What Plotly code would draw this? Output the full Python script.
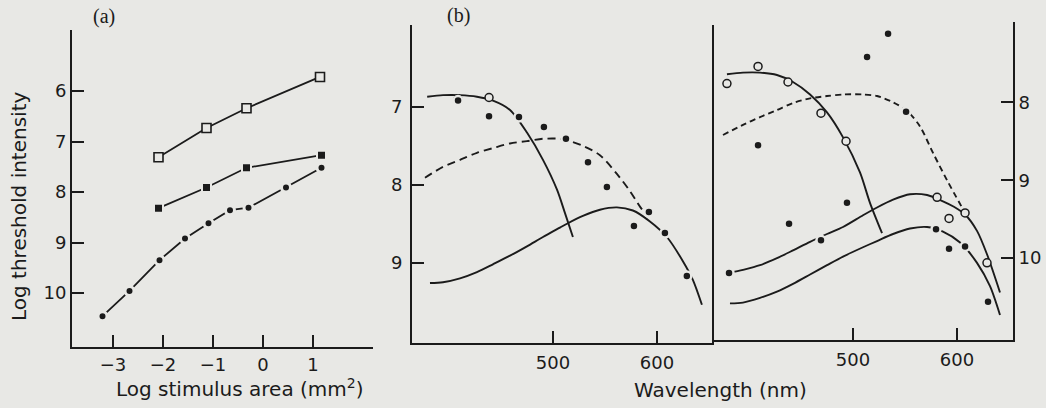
import plotly.graph_objects as go

BG = "#e8e8e5"
INK = "#1b1b1b"
FONT = "DejaVu Sans"
SERIF = "Liberation Serif"

# ---------------- Panel (a) data ----------------
a_x_ticks = [-3, -2, -1, 0, 1]
a_x_text = ["\u22123", "\u22122", "\u22121", "0", "1"]
a_y_ticks = [6, 7, 8, 9, 10]

a_open_x = [-2.09, -1.13, -0.33, 1.14]
a_open_y = [7.31, 6.73, 6.34, 5.72]
a_fill_x = [-2.09, -1.13, -0.33, 1.17]
a_fill_y = [8.32, 7.91, 7.52, 7.27]
a_dot_x = [-3.21, -2.67, -2.07, -1.56, -1.09, -0.66, -0.29, 0.46, 1.17]
a_dot_y = [10.46, 9.96, 9.35, 8.92, 8.62, 8.36, 8.31, 7.91, 7.52]

# ---------------- Panel (b) left data ----------------
b_x_ticks = [500, 600]
bl_y_ticks = [7, 8, 9]

bl_short_x = [379.0, 394.2, 410.6, 426.9, 442.3, 458.7, 475.0, 490.4, 503.8, 511.5, 519.2]
bl_short_y = [6.87, 6.85, 6.85, 6.87, 6.92, 7.04, 7.33, 7.68, 8.06, 8.36, 8.67]

bl_dash_x = [376.9, 394.2, 410.6, 426.9, 442.3, 458.7, 475.0, 490.4, 506.7, 513.5, 528.8, 545.2, 561.5, 574.0, 583.7, 590.4]
bl_dash_y = [7.91, 7.77, 7.68, 7.59, 7.53, 7.47, 7.44, 7.41, 7.41, 7.43, 7.50, 7.62, 7.86, 8.08, 8.28, 8.40]

bl_long_x = [381.7, 394.2, 410.6, 426.9, 442.3, 458.7, 475.0, 490.4, 506.7, 513.5, 528.8, 545.2, 561.5, 576.9, 593.3, 609.6, 625.0, 634.6, 643.3]
bl_long_y = [9.26, 9.25, 9.20, 9.12, 9.02, 8.91, 8.79, 8.67, 8.55, 8.50, 8.40, 8.32, 8.29, 8.33, 8.47, 8.67, 8.98, 9.22, 9.54]

bl_open_x = [408.7, 438.5]
bl_open_y = [6.90, 6.88]
bl_fill_x = [408.7, 438.5, 467.3, 491.3, 512.5, 533.7, 551.9, 577.9, 592.3, 607.7, 628.8]
bl_fill_y = [6.92, 7.12, 7.13, 7.26, 7.41, 7.71, 8.03, 8.53, 8.35, 8.62, 9.17]

# ---------------- Panel (b) right data ----------------
br_y_ticks = [8, 9, 10]

br_short_x = [378.8, 394.2, 410.6, 426.9, 442.3, 458.7, 475.0, 490.4, 506.7, 516.3, 527.9]
br_short_y = [7.64, 7.62, 7.62, 7.65, 7.74, 7.90, 8.13, 8.45, 8.90, 9.29, 9.68]

br_dash_x = [375.0, 394.2, 410.6, 426.9, 442.3, 458.7, 475.0, 490.4, 509.6, 523.1, 538.5, 551.9, 564.4, 576.9, 590.4, 607.7]
br_dash_y = [8.42, 8.29, 8.19, 8.10, 8.01, 7.95, 7.92, 7.90, 7.90, 7.92, 8.00, 8.11, 8.31, 8.65, 9.00, 9.42]

br_longU_x = [380.8, 394.2, 410.6, 426.9, 442.3, 458.7, 475.0, 490.4, 509.6, 523.1, 538.5, 554.8, 571.2, 586.5, 597.0, 607.7, 619.2, 628.8, 641.3]
br_longU_y = [10.19, 10.15, 10.09, 10.00, 9.90, 9.79, 9.69, 9.60, 9.45, 9.35, 9.25, 9.18, 9.19, 9.27, 9.34, 9.44, 9.65, 9.95, 10.44]

br_longL_x = [381.7, 394.2, 410.6, 426.9, 442.3, 458.7, 475.0, 490.4, 509.6, 523.1, 538.5, 554.8, 571.2, 586.5, 602.9, 619.2, 631.7, 641.3]
br_longL_y = [10.58, 10.57, 10.51, 10.43, 10.33, 10.21, 10.09, 9.98, 9.86, 9.78, 9.69, 9.62, 9.60, 9.66, 9.80, 10.06, 10.36, 10.73]

br_open_x = [378.8, 408.7, 437.5, 469.2, 493.3, 580.8, 592.3, 607.7, 628.8]
br_open_y = [7.76, 7.54, 7.74, 8.14, 8.50, 9.22, 9.49, 9.42, 10.06]
br_fill_x = [380.8, 408.7, 438.5, 469.2, 494.2, 513.5, 533.7, 551.0, 579.8, 592.3, 607.7, 629.8]
br_fill_y = [10.19, 8.55, 9.56, 9.77, 9.29, 7.42, 7.12, 8.12, 9.63, 9.88, 9.85, 10.56]

fig = go.Figure()


def add(x, y, xa, ya, **kw):
    fig.add_trace(go.Scatter(x=x, y=y, xaxis=xa, yaxis=ya, showlegend=False,
                             hoverinfo="skip", **kw))


# Panel (a)
add(a_open_x, a_open_y, "x", "y", mode="lines+markers",
    line=dict(color=INK, width=1.8),
    marker=dict(symbol="square", size=9, color=BG, line=dict(color=INK, width=1.6)))
add(a_fill_x, a_fill_y, "x", "y", mode="lines+markers",
    line=dict(color=INK, width=1.8),
    marker=dict(symbol="square", size=9, color=INK, line=dict(color=BG, width=2)))
add(a_dot_x, a_dot_y, "x", "y", mode="lines+markers",
    line=dict(color=INK, width=1.8),
    marker=dict(symbol="circle", size=9, color=INK, line=dict(color=BG, width=3)))

# Panel (b) curves
curve = dict(shape="spline", smoothing=0.8, color=INK, width=1.9)
add(bl_short_x, bl_short_y, "x2", "y2", mode="lines", line=curve)
add(bl_long_x, bl_long_y, "x2", "y2", mode="lines", line=curve)
add(bl_dash_x, bl_dash_y, "x2", "y2", mode="lines", line=dict(curve, dash="8px,5px"))
add(br_short_x, br_short_y, "x3", "y3", mode="lines", line=curve)
add(br_longU_x, br_longU_y, "x3", "y3", mode="lines", line=curve)
add(br_longL_x, br_longL_y, "x3", "y3", mode="lines", line=curve)
add(br_dash_x, br_dash_y, "x3", "y3", mode="lines", line=dict(curve, dash="6px,4px"))

# Panel (b) points
open_m = dict(symbol="circle", size=8, color=BG, line=dict(color=INK, width=1.5))
fill_m = dict(symbol="circle", size=9, color=INK, line=dict(color=BG, width=2.5))
add(bl_open_x, bl_open_y, "x2", "y2", mode="markers", marker=open_m)
add(bl_fill_x, bl_fill_y, "x2", "y2", mode="markers", marker=fill_m)
add(br_open_x, br_open_y, "x3", "y3", mode="markers", marker=open_m)
add(br_fill_x, br_fill_y, "x3", "y3", mode="markers", marker=fill_m)

W, H = 1046, 408
tickfont = dict(family=FONT, size=18, color=INK)
axcommon = dict(showgrid=False, zeroline=False, showline=True, linecolor=INK, linewidth=1.8,
                ticks="inside", ticklen=12, tickwidth=1.6, tickcolor=INK, tickfont=tickfont)


def px_x(p):
    return p / W


def px_y(p):
    return 1 - p / H


def label(text, x, y, size, family=FONT, angle=0):
    return dict(text=text, x=px_x(x), y=px_y(y), xref="paper", yref="paper",
                xanchor="center", yanchor="middle", textangle=angle, showarrow=False,
                font=dict(family=family, size=size, color=INK))


fig.update_layout(
    width=W, height=H,
    margin=dict(l=0, r=0, t=0, b=0),
    paper_bgcolor=BG, plot_bgcolor=BG,
    xaxis=dict(axcommon, domain=[px_x(72), px_x(373)], range=[-3.82, 2.2], anchor="y",
               tickvals=a_x_ticks, ticktext=a_x_text, ticklabelstandoff=0),
    yaxis=dict(axcommon, domain=[px_y(347), px_y(30)], range=[11.07, 4.79], anchor="x",
               tickvals=a_y_ticks, ticklabelstandoff=0),
    xaxis2=dict(axcommon, domain=[px_x(412), px_x(712)], range=[364.4, 653.0], anchor="y2",
                tickvals=b_x_ticks, ticklabelstandoff=2),
    yaxis2=dict(axcommon, domain=[px_y(343), px_y(25)], range=[10.03, 5.95], anchor="x2",
                tickvals=bl_y_ticks, mirror=True, ticklabelstandoff=4),
    xaxis3=dict(axcommon, domain=[px_x(713), px_x(1013)], range=[365.4, 653.8], anchor="y3",
                tickvals=b_x_ticks, ticklabelstandoff=2),
    yaxis3=dict(axcommon, domain=[px_y(340), px_y(22)], range=[11.05, 6.97], anchor="x3",
                side="right", tickvals=br_y_ticks, ticklabelstandoff=0),
    annotations=[
        label("(a)", 104, 17, 20, SERIF),
        label("(b)", 458, 16, 20, SERIF),
        label("Log threshold intensity", 19, 206, 20, angle=-90),
        label("Log stimulus area (mm<sup>2</sup>)", 240, 388, 20),
        label("Wavelength (nm)", 720, 390, 20),
    ],
)

fig.write_html("out.html")
